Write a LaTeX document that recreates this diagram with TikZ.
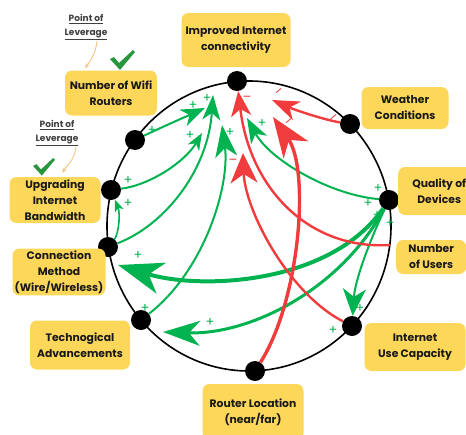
\documentclass[tikz,border=0pt]{standalone}
\usepackage{fontspec}
\setmainfont{Poppins}
\usetikzlibrary{arrows.meta}

\definecolor{plusgreen}{RGB}{0,178,80}
\definecolor{minusred}{RGB}{240,60,60}
\definecolor{boxyellow}{RGB}{253,215,90}
\definecolor{tickgreen}{RGB}{40,150,60}
\definecolor{leverorange}{RGB}{245,195,130}

\tikzset{
  dot/.style={circle, fill=black, inner sep=0pt, minimum size=20pt},
  factor/.style={fill=boxyellow, rounded corners=7pt, align=center, inner sep=2pt,
    text=black!90, font=\bfseries\fontsize{10.8}{16}\selectfont},
  poslink/.style={plusgreen, line width=2pt},
  neglink/.style={minusred, line width=2.4pt},
  arrowhd/.style n args={3}{-{Stealth[length=#1pt, width=#2pt, inset=#3pt]}},
  sign/.style={font=\fontsize{13}{13}\selectfont, inner sep=0pt},
  lever/.style={font=\bfseries\fontsize{9}{14}\selectfont, text=black!75, align=center, inner sep=1pt},
  leverarrow/.style={leverorange, line width=0.9pt, -{Stealth[length=5pt, width=4pt]}},
}

\begin{document}
\begin{tikzpicture}[x=1pt, y=-1pt]
  \useasboundingbox (0,0) rectangle (466,434);
  \draw[line width=1.6pt] (249,226) ellipse [x radius=142pt, y radius=145pt];

  % points on the loop
  \node[dot] (imp) at (237,81) {};
  \node[dot] (wea) at (350,124) {};
  \node[dot] (qual) at (389,200) {};
  \coordinate (users) at (390,245);
  \node[dot] (iuc) at (352,326) {};
  \node[dot] (router) at (255,371) {};
  \node[dot] (tech) at (141,320) {};
  \node[dot] (conn) at (108,247) {};
  \node[dot] (upgr) at (111,190) {};
  \node[dot] (wifi) at (135,140) {};

  % factor labels
  \node[factor, minimum width=109pt, minimum height=54pt] (impL) at (236,40) {Improved Internet\\connectivity};
  \node[factor, minimum width=87pt, minimum height=42pt] (weaL) at (405,108) {Weather\\Conditions};
  \node[factor, anchor=west, minimum width=82pt, minimum height=48pt] (qualL) at (398,191) {Quality of\\Devices};
  \node[factor, anchor=west, minimum width=70pt, minimum height=34pt] (usersL) at (396,257) {Number\\of Users};
  \node[factor, minimum width=101pt, minimum height=48pt] (iucL) at (415,347) {Internet\\Use Capacity};
  \node[factor, minimum width=101pt, minimum height=56pt] (routerL) at (253,412) {Router Location\\(near/far)};
  \node[factor, minimum width=100pt, minimum height=49pt] (techL) at (80,345) {Technogical\\Advancements};
  \node[factor, minimum width=93pt, minimum height=46pt] (connL) at (59,272) {Connection\\Method\\(Wire/Wireless)};
  \node[factor, minimum width=91pt, minimum height=46pt] (upgrL) at (55,200) {Upgrading\\Internet\\Bandwidth};
  \node[factor, minimum width=92pt, minimum height=45pt] (wifiL) at (111,93) {Number of Wifi\\Routers};

  % points of leverage
  \node[lever] (lev1) at (86,27) {\underline{Point of}\\\underline{Leverage}};
  \node[lever] (lev2) at (57,133) {\underline{Point of}\\\underline{Leverage}};
  \draw[leverarrow] ([xshift=11pt]lev1.south) .. controls +(-1,12) and +(5,-7) .. ([xshift=-26pt, yshift=2pt]wifiL.north);
  \draw[leverarrow] ([xshift=19pt]lev2.south) .. controls +(-1,12) and +(5,-7) .. ([xshift=7pt, yshift=4pt]upgrL.north);
  \foreach \cx/\cy/\s in {110/50/1, 33/158/0.88}
    \fill[tickgreen, shift={(\cx,\cy)}, scale=\s] (0,9) -- (4,7) -- (9,13) -- (23,0) -- (25,2) -- (10,20) -- cycle;

  % arrow tips inside the loop
  \coordinate (t1) at (205,108);
  \coordinate (t2) at (202,133);
  \coordinate (t3) at (213,95);
  \coordinate (t4) at (222,125);
  \coordinate (t5) at (247,118);
  \coordinate (t6) at (118,265);
  \coordinate (t7) at (163,332);
  \coordinate (t11) at (243,153);
  \coordinate (t12) at (272,100);
  \coordinate (t13) at (273,117);

  % positive links
  \draw[poslink, arrowhd={24}{18}{7}] (wifi) .. controls (160,128) and (185,117) .. (t1);
  \draw[poslink, arrowhd={17}{13}{5}] (upgr) .. controls (150,185) and (185,162) .. (t2);
  \draw[poslink, arrowhd={25}{18}{7}] (conn) .. controls (165,225) and (208,170) .. (t3);
  \draw[poslink, arrowhd={32}{22}{9}] (tech) .. controls (205,270) and (230,185) .. (t4);
  \draw[poslink, arrowhd={25}{18}{7}] (qual) .. controls (330,195) and (270,160) .. (t5);
  \draw[poslink, line width=4pt, arrowhd={45}{32}{13}] (qual) .. controls (330,285) and (200,290) .. (t6);
  \draw[poslink, line width=3pt, arrowhd={37}{25}{11}] (qual) .. controls (340,290) and (250,335) .. (t7);
  \draw[poslink, arrowhd={27}{23}{8}] (qual) .. controls (370,240) and (355,280) .. (iuc);
  \draw[poslink, line width=1.6pt, arrowhd={12}{9}{3}] (conn) .. controls (118,235) and (121,215) .. (upgr);

  % negative links
  \draw[neglink, arrowhd={25}{20}{7}] (users) .. controls (310,250) and (250,190) .. (imp);
  \draw[neglink, arrowhd={30}{27}{9}] (iuc) .. controls (288,293) and (245,210) .. (t11);
  \draw[neglink, arrowhd={27}{20}{8}] (wea) .. controls (325,120) and (295,110) .. (t12);
  \draw[neglink, line width=3.4pt, arrowhd={40}{30}{12}] (router) .. controls (300,300) and (310,170) .. (t13);

  % polarity signs
  \foreach \x/\y [count=\i] in {152/130, 193/105, 207/98, 190/135, 230/132, 262/123, 128/180,
      128/203, 138/255, 145/308, 210/322, 378/188, 368/203, 377/215, 390/223, 360/308, 333/330}
    \node[sign, plusgreen] (plus\i) at (\x,\y) {+};
  \foreach \x/\y/\r [count=\i] in {247/99/0, 280/93/40, 335/119/40, 290/123/40, 233/162/0}
    \node[sign, minusred, rotate=\r] (minus\i) at (\x,\y) {\textendash};
\end{tikzpicture}
\end{document}
